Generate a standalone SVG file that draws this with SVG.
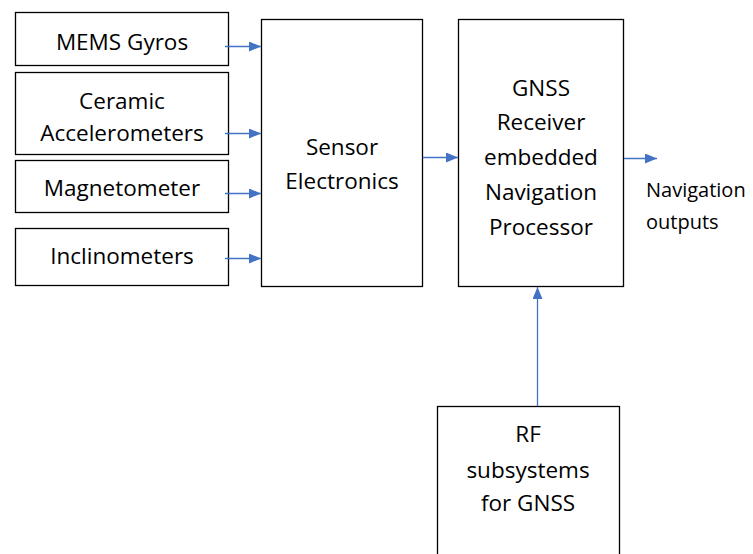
<svg xmlns="http://www.w3.org/2000/svg" width="753" height="554" viewBox="0 0 753 554">
<style>
.box{fill:#fff;stroke:#000;stroke-width:1.3}
.t{font-family:"Open Sans","Liberation Sans",sans-serif;font-size:22.5px;fill:#000;text-anchor:middle}
.s{font-family:"Open Sans","Liberation Sans",sans-serif;font-size:20px;fill:#000}
.c{stroke:#4472C4;stroke-width:1.3;fill:none;marker-end:url(#ah)}
</style>
<defs>
<marker id="ah" markerWidth="12" markerHeight="10" refX="12" refY="5" orient="auto" markerUnits="userSpaceOnUse">
<path d="M0,0 L12,5 L0,10 Z" fill="#4472C4"/>
</marker>
</defs>
<rect width="753" height="554" fill="#fff"/>
<g id="mems"><rect class="box" x="15.5" y="12.5" width="213" height="53"/><text class="t" x="122" y="50">MEMS Gyros</text></g>
<g id="accel"><rect class="box" x="15.5" y="72.5" width="213" height="82"/><text class="t" x="122" y="109">Ceramic</text><text class="t" x="122" y="141">Accelerometers</text></g>
<g id="mag"><rect class="box" x="15.5" y="160.5" width="213" height="52"/><text class="t" x="122" y="196">Magnetometer</text></g>
<g id="incl"><rect class="box" x="15.5" y="228.5" width="213" height="57"/><text class="t" x="122" y="264">Inclinometers</text></g>
<g id="sensor"><rect class="box" x="261.5" y="19.5" width="161" height="267"/><text class="t" x="342" y="155">Sensor</text><text class="t" x="342" y="189">Electronics</text></g>
<g id="gnss"><rect class="box" x="458.5" y="19.5" width="165" height="267"/><text class="t" x="541" y="96">GNSS</text><text class="t" x="541" y="130">Receiver</text><text class="t" x="541" y="165">embedded</text><text class="t" x="541" y="200">Navigation</text><text class="t" x="541" y="235">Processor</text></g>
<g id="rf"><rect class="box" x="437.5" y="406.5" width="182" height="160"/><text class="t" x="528" y="442">RF</text><text class="t" x="528" y="478">subsystems</text><text class="t" x="528" y="511">for GNSS</text></g>
<g id="out"><text class="s" x="646" y="197">Navigation</text><text class="s" x="646" y="229">outputs</text></g>
<g id="connectors">
<line class="c" x1="225" y1="46.5" x2="261" y2="46.5"/>
<line class="c" x1="225" y1="133.5" x2="261" y2="133.5"/>
<line class="c" x1="225" y1="193.5" x2="261" y2="193.5"/>
<line class="c" x1="225" y1="258.5" x2="261" y2="258.5"/>
<line class="c" x1="423" y1="157.5" x2="458" y2="157.5"/>
<line class="c" x1="624" y1="158.5" x2="657" y2="158.5"/>
<line class="c" x1="537.5" y1="406" x2="537.5" y2="287"/>
</g>
</svg>
